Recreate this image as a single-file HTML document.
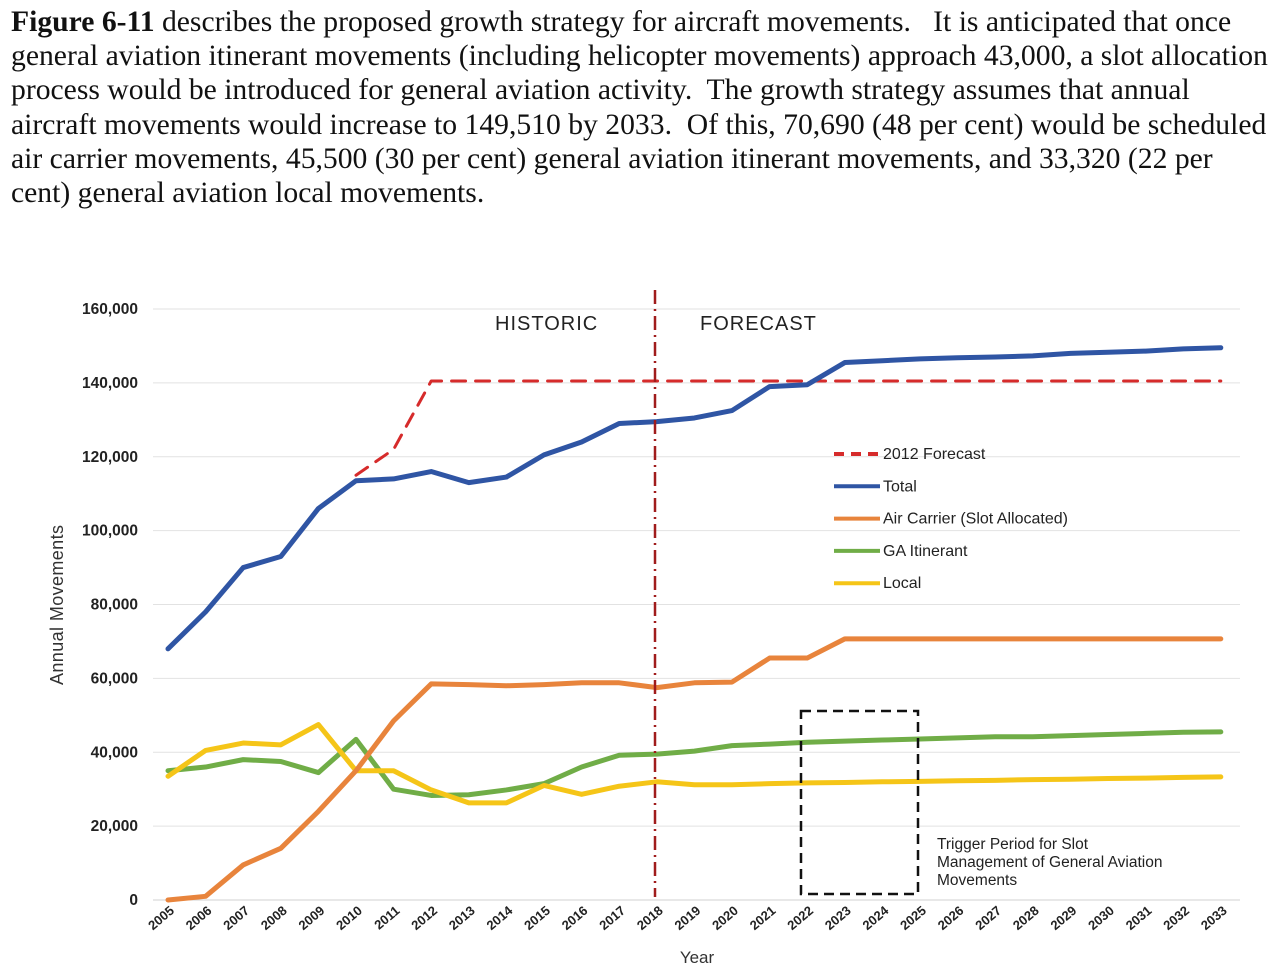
<!DOCTYPE html>
<html><head><meta charset="utf-8"><style>
body{margin:0;width:1280px;height:980px;background:#fff;overflow:hidden}
.p{position:absolute;left:11px;top:5px;font-family:"Liberation Serif",serif;font-size:29.65px;line-height:34.2px;color:#111;white-space:nowrap}
svg{position:absolute;left:0;top:0}
</style></head><body>
<div class="p"><b>Figure 6-11</b> describes the proposed growth strategy for aircraft movements.&nbsp;&nbsp; It is anticipated that once<br>general aviation itinerant movements (including helicopter movements) approach 43,000, a slot allocation<br>process would be introduced for general aviation activity.&nbsp; The growth strategy assumes that annual<br>aircraft movements would increase to 149,510 by 2033.&nbsp; Of this, 70,690 (48 per cent) would be scheduled<br>air carrier movements, 45,500 (30 per cent) general aviation itinerant movements, and 33,320 (22 per<br>cent) general aviation local movements.</div>
<svg id="s" width="1280" height="980" font-family="Liberation Sans, sans-serif"></svg>
<script>
const s=document.getElementById('s');let h='';
const X=i=>168+i*37.6, Y=v=>900-v*591/160000;
for(let v=0;v<=160000;v+=20000){h+=`<line x1="153" x2="1240" y1="${Y(v)}" y2="${Y(v)}" stroke="${v?'#e2e2e2':'#d0d0d0'}" stroke-width="1"/>`;
const t=v.toLocaleString('en-US');
h+=`<text x="138" y="${Y(v)+5}" text-anchor="end" font-size="15.5" font-weight="bold" fill="#222">${t}</text>`;}
for(let i=0;i<=28;i++){h+=`<text transform="translate(${X(i)+7},912) rotate(-40)" text-anchor="end" font-size="13" font-weight="bold" fill="#222">${2005+i}</text>`;}
h+=`<text x="697" y="963" text-anchor="middle" font-size="17" fill="#333">Year</text>`;
h+=`<text transform="translate(63,605) rotate(-90)" text-anchor="middle" font-size="18" fill="#333" textLength="160">Annual Movements</text>`;
h+=`<text x="495" y="330" font-size="20" fill="#222" letter-spacing="1">HISTORIC</text><text x="700" y="330" font-size="20" fill="#222" letter-spacing="1">FORECAST</text>`;
const line=(d,c,w,dash,off=0)=>{h+=`<polyline fill="none" stroke="${c}" stroke-width="${w}" stroke-linejoin="round" stroke-linecap="round" ${dash?`stroke-dasharray="${dash}"`:''} points="${d.map((v,i)=>X(i+off)+','+Y(v)).join(' ')}"/>`;};
const tot=[68000,78000,90000,93000,106000,113500,114000,116000,113000,114500,120500,124000,129000,129500,130500,132500,139000,139500,145500,146000,146500,146800,147000,147300,148000,148300,148600,149200,149510];
const fc=[115000,122000,140500];for(let i=0;i<21;i++)fc.push(140500);
const ac=[0,1000,9500,14000,24000,35000,48500,58500,58300,58000,58300,58800,58800,57500,58800,59000,65500,65500,70690,70690,70690,70690,70690,70690,70690,70690,70690,70690,70690];
const ga=[35000,36000,38000,37500,34500,43500,30000,28300,28500,29800,31500,36000,39200,39500,40300,41800,42200,42700,43000,43300,43600,43900,44200,44200,44500,44800,45100,45400,45500];
const lo=[33500,40500,42500,42000,47500,35000,35000,29800,26300,26300,31000,28600,30800,32000,31200,31200,31500,31700,31800,32000,32100,32300,32400,32600,32700,32900,33000,33200,33320];
line(ga,'#70ad47',5);line(lo,'#f5c518',5);line(ac,'#e8843c',5);
line(fc,'#d62b2b',3,'14 10',5);line(tot,'#2f55a4',5);
h+=`<line x1="655" x2="655" y1="290" y2="897" stroke="#a01c1c" stroke-width="2.5" stroke-dasharray="14 5 2 5"/>`;
h+=`<rect x="801" y="711" width="117" height="183" fill="none" stroke="#111" stroke-width="2.5" stroke-dasharray="10 6"/>`;
h+=`<text font-size="15.5" fill="#222"><tspan x="937" y="849">Trigger Period for Slot</tspan><tspan x="937" y="867">Management of General Aviation</tspan><tspan x="937" y="885">Movements</tspan></text>`;
const lg=[['2012 Forecast','#d62b2b',1],['Total','#2f55a4'],['Air Carrier (Slot Allocated)','#e8843c'],['GA Itinerant','#70ad47'],['Local','#f5c518']];
lg.forEach((l,k)=>{const y=454+k*32.3;h+=`<line x1="834" x2="880" y1="${y}" y2="${y}" stroke="${l[1]}" stroke-width="4" ${l[2]?'stroke-dasharray="10 7"':''}/><text x="883" y="${y+5}" font-size="16" fill="#222">${l[0]}</text>`;});
s.innerHTML=h;
</script>
</body></html>
